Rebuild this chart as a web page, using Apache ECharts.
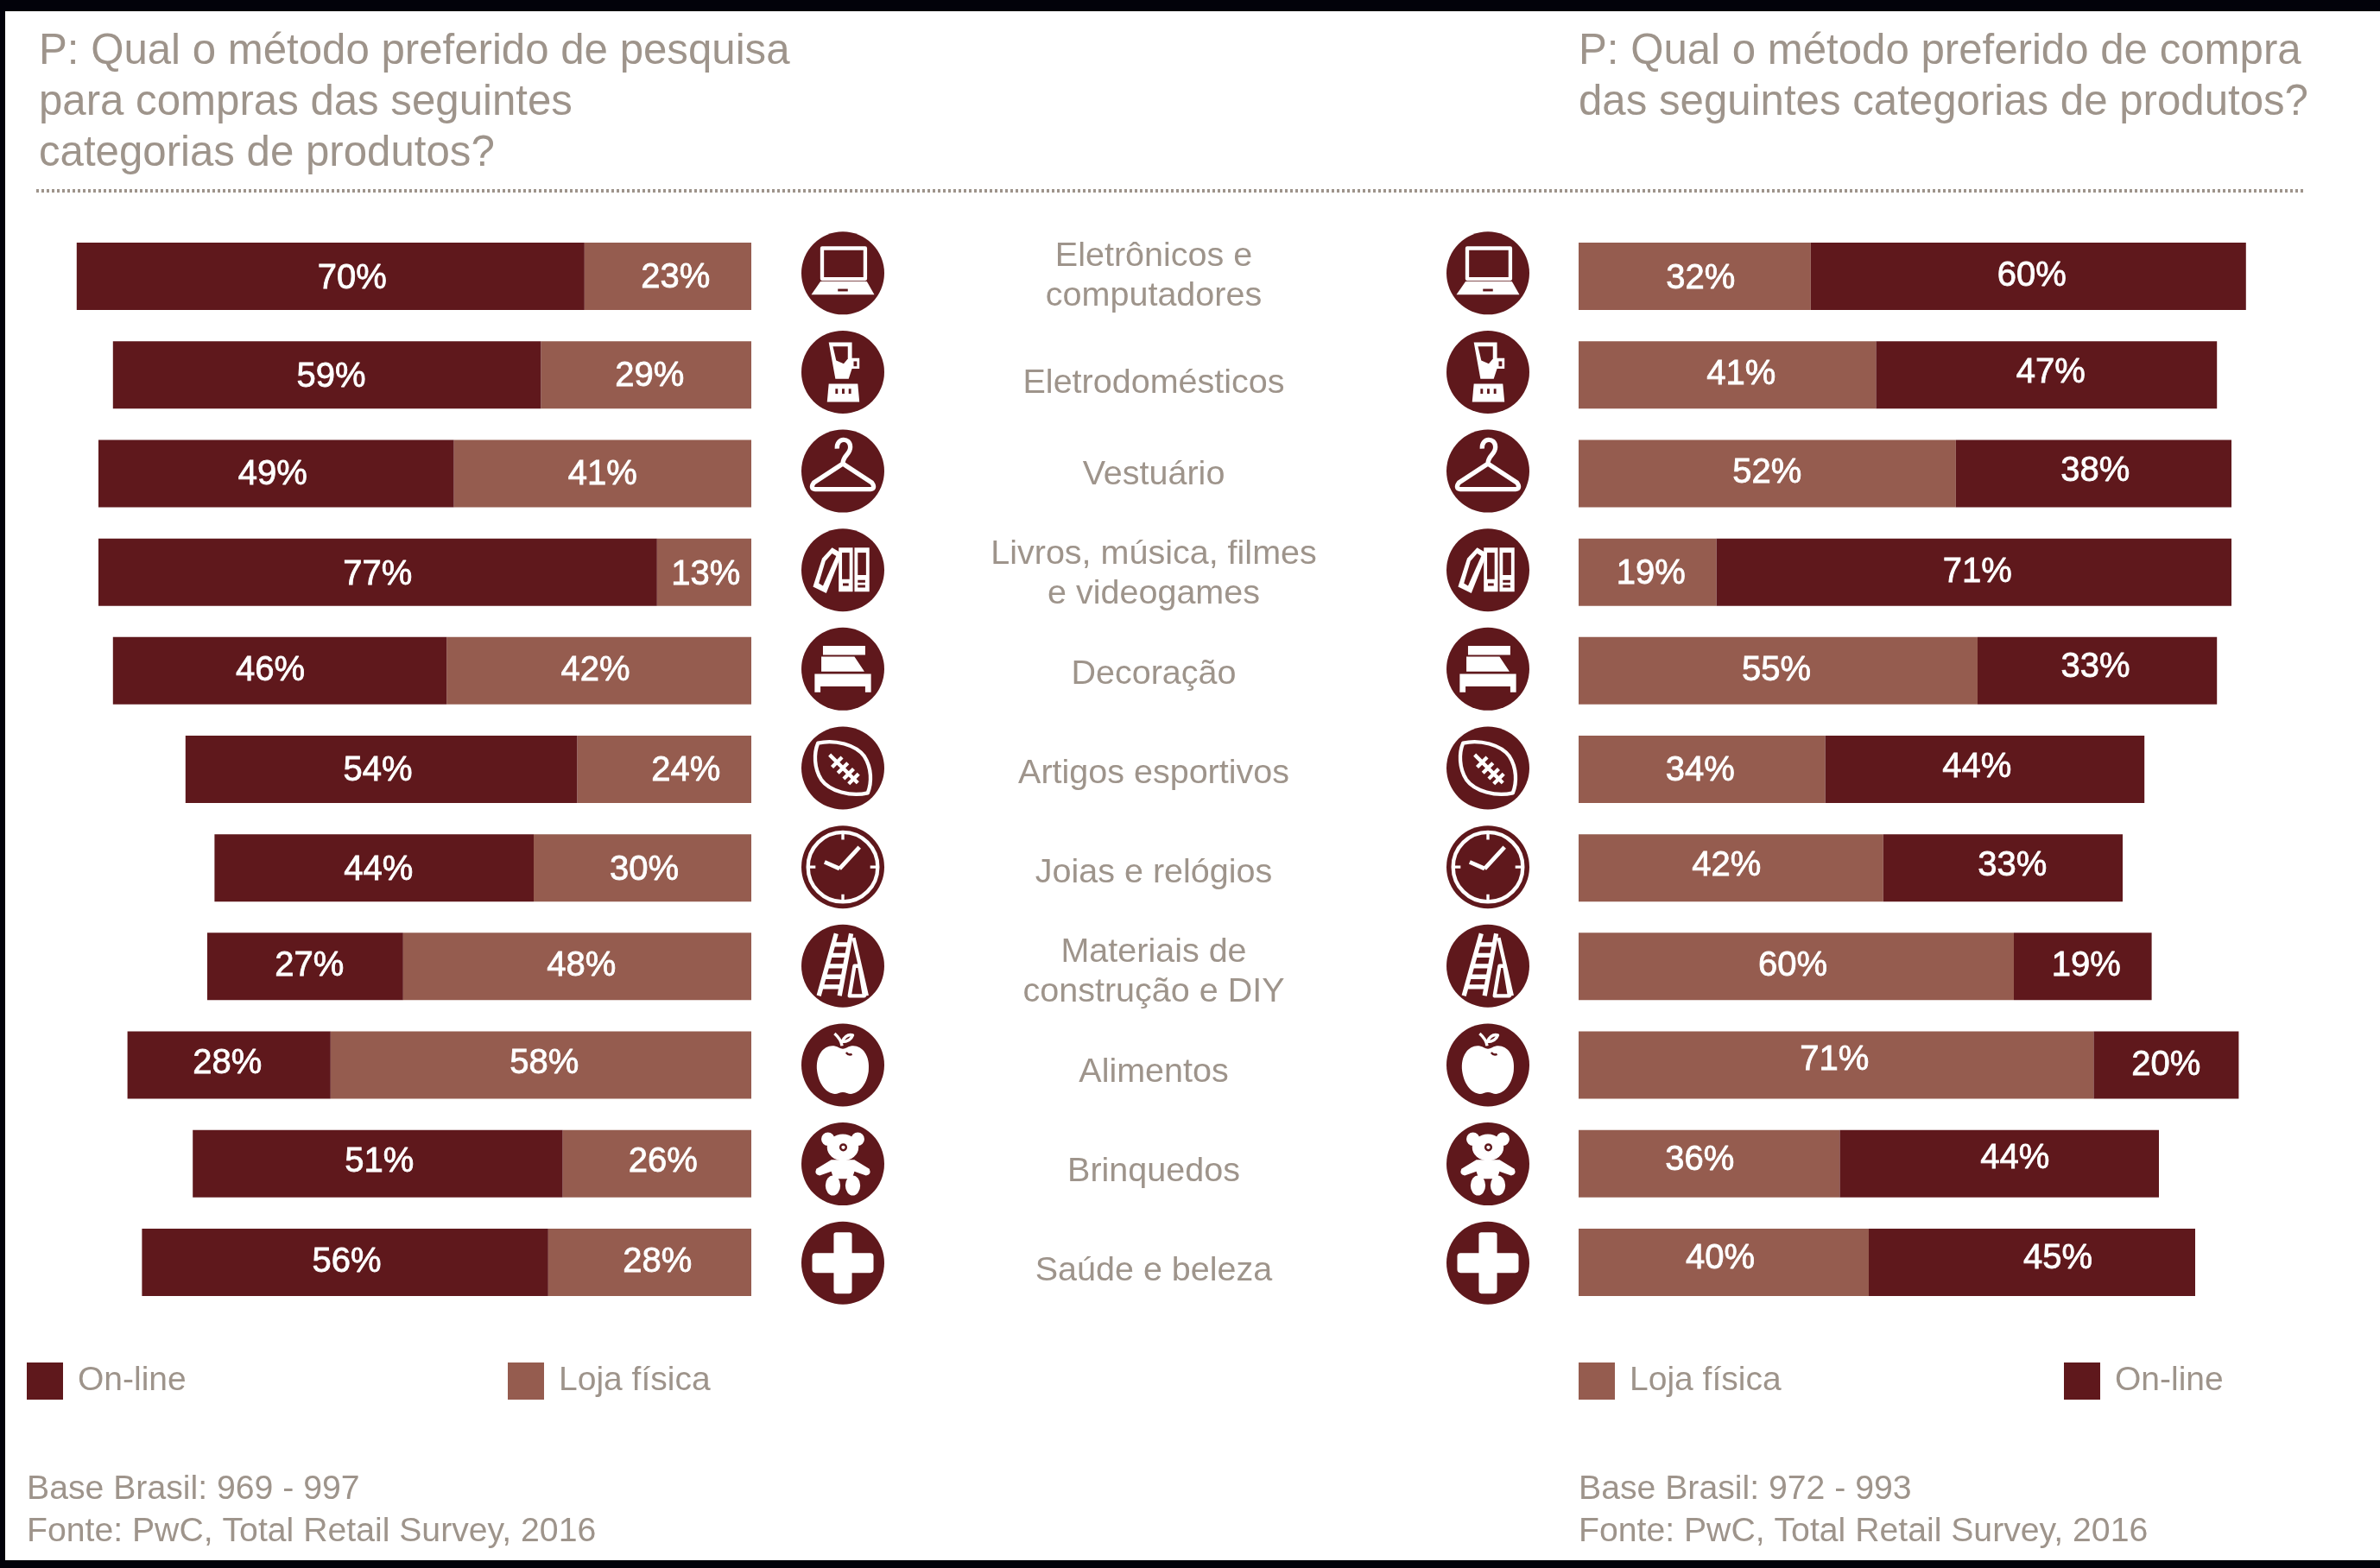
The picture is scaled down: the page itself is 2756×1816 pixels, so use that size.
<!DOCTYPE html>
<html lang="pt-BR">
<head>
<meta charset="utf-8">
<title>Total Retail Survey 2016</title>
<style>
html,body{margin:0;padding:0;background:#fff}
#chart{width:2756px;height:1816px}
</style>
<script src="https://cdn.jsdelivr.net/npm/echarts@6/dist/echarts.min.js"></script>
</head>
<body>
<div id="chart"></div>
<script>
// Survey results: preferred method per product category
const categories = [
  'Eletrônicos e\ncomputadores', 'Eletrodomésticos', 'Vestuário',
  'Livros, música, filmes\ne videogames', 'Decoração', 'Artigos esportivos',
  'Joias e relógios', 'Materiais de\nconstrução e DIY', 'Alimentos',
  'Brinquedos', 'Saúde e beleza'
];
const iconNames = ['laptop','blender','hanger','books','bed','ball','clock','ladder','apple','teddy','cross'];

const researchOnline = [70, 59, 49, 77, 46, 54, 44, 27, 28, 51, 56];
const researchStore  = [23, 29, 41, 13, 42, 24, 30, 48, 58, 26, 28];
const purchaseStore  = [32, 41, 52, 19, 55, 34, 42, 60, 71, 36, 40];
const purchaseOnline = [60, 47, 38, 71, 33, 44, 33, 19, 20, 44, 45];

const ONLINE = 'On-line';
const STORE = 'Loja física';
const DARK = '#5f181c';
const LIGHT = '#955c4f';
const GREY = '#9e948b';
const FONT = '"Liberation Sans", Arial, sans-serif';

// Hand placement of the percentage labels inside their bars, in pixels
const labelShift = {
  researchOnline: {x: [25, 5, -4, 0, -11, -4, 5, 5, -2, 2, 2], y: [3, 3, 2, 3, 0, 2, 3, 0, -2, -2, 0]},
  researchStore:  {x: [9, 4, 0, 2, -4, 25, 2, 5, 4, 7, 9], y: [2, 2, 2, 3, 0, 2, 3, 0, -2, -2, 0]},
  purchaseStore:  {x: [7, 16, 0, 4, -2, -2, -5, -4, -2, -11, -4], y: [3, 0, 0, 2, 0, 2, -2, 0, -6, -4, -4]},
  purchaseOnline: {x: [4, 5, 2, 4, -2, -9, 11, 4, 0, 18, 30], y: [0, -2, -2, 0, -4, -2, -2, 0, 0, -6, -4]}
};

// Pictograms, drawn on a circle of radius 50 around the origin
const W = '#fff';
const iconShapes = {
  laptop: [
    {d:'M-25,-30 L27,-30 L27,7 L-25,7 Z', stroke:W, w:4.5},
    {d:'M-27,10 L29,10 L38,26 L-38,26 Z', fill:W},
    {d:'M-6,19 L6,19 L6,22 L-6,22 Z', fill:DARK}
  ],
  blender: [
    {d:'M-17,-36 L11,-36 L11,-17 L20,-17 L20,-4 L11,-4 L7,8 L-9,8 Z', fill:W},
    {d:'M-12,-31 L6,-31 L6,-16 L1,-10 L-8,-14 Z', fill:DARK},
    {d:'M13,-13 L17,-13 L17,-7 L13,-7 Z', fill:DARK},
    {d:'M-17,14 L18,14 L20,36 L-19,36 Z', fill:W},
    {d:'M-9,20 L-6,20 L-6,26 L-9,26 Z M-1,20 L2,20 L2,26 L-1,26 Z M7,20 L10,20 L10,26 L7,26 Z', fill:DARK}
  ],
  hanger: [
    {d:'M-7,-27 C-8,-41 9,-41 9,-29 C9,-20 0,-19 0,-9 L-35,14 Q-40,21 -33,22 L33,22 Q40,21 35,14 L0,-9', stroke:W, w:5.5}
  ],
  books: [
    {d:'M-25,-14 L-13,-27 L-1,-20 L-20,28 L-36,20 Z', fill:W},
    {d:'M-21,-11 L-13,-20 L-8,-17 L-24,19 L-29,16 Z', fill:DARK},
    {d:'M-5,-27 L12,-27 L12,26 L-5,26 Z', fill:W},
    {d:'M-1,-21 L8,-21 L8,11 L-1,11 Z', fill:DARK},
    {d:'M14,-27 L32,-27 L32,26 L14,26 Z', fill:W},
    {d:'M18,-21 L28,-21 L28,6 L18,6 Z', fill:DARK},
    {d:'M0,16 L7,16 L7,19 L0,19 Z M18,12 L27,12 L27,15 L18,15 Z M18,18 L27,18 L27,21 L18,21 Z', fill:DARK}
  ],
  bed: [
    {d:'M-24,-28 L27,-28 L27,-17 L-24,-17 Z', fill:W},
    {d:'M-26,-15 L14,-15 L26,3 L-26,3 Z', fill:W},
    {d:'M-34,6 L34,6 L34,28 L27,28 L27,21 L-27,21 L-27,28 L-34,28 Z', fill:W}
  ],
  ball: [
    {d:'M-30,-30 C-10,-35 16,-28 26,-14 C35,0 35,18 30,30 C10,35 -16,28 -26,14 C-35,0 -35,-18 -30,-30 Z', stroke:W, w:4.5},
    {d:'M-16,-16 L18,18 M-13,-1 L-1,-13 M-6,6 L6,-6 M1,13 L13,1 M7,19 L19,7', stroke:W, w:4.5}
  ],
  clock: [
    {d:'M-42,0 A42,42 0 1,0 42,0 A42,42 0 1,0 -42,0 Z', stroke:W, w:4.5},
    {d:'M0,-41 L0,-33 M0,41 L0,33 M-41,0 L-33,0 M41,0 L33,0', stroke:W, w:3.5},
    {d:'M-4,2 L20,-24 M-4,2 L-22,-6', stroke:W, w:5}
  ],
  ladder: [
    {d:'M-8,-39 L-29,36 M10,-39 L-4,36 M-12,-26 L7,-26 M-15,-13 L4,-13 M-19,0 L1,0 M-23,13 L-1,13 M-26,25 L-3,25', stroke:W, w:5.5},
    {d:'M13,-34 L29,36 M14,0 L8,36 L26,36 L20,0 Z', stroke:W, w:4.5}
  ],
  apple: [
    {d:'M-5,-21 C-18,-28 -34,-16 -31,8 C-28,28 -15,38 -5,34 Q0,32 5,34 C15,38 28,28 31,8 C34,-16 18,-28 5,-21 Q0,-18 -5,-21 Z', fill:W},
    {d:'M-10,-38 Q-2,-31 -1,-23 M-1,-28 Q4,-38 12,-36 Q9,-28 -1,-28 Z', stroke:W, w:3.5},
    {d:'M4,-15 Q7,-11 11,-13', stroke:DARK, w:2.5}
  ],
  teddy: [
    {d:'M-26,-30 A8,8 0 1,0 -10,-30 A8,8 0 1,0 -26,-30 Z M10,-30 A8,8 0 1,0 26,-30 A8,8 0 1,0 10,-30 Z', fill:W},
    {d:'M-19,-20 A19,16 0 1,0 19,-20 A19,16 0 1,0 -19,-20 Z', fill:W},
    {d:'M-3,-20 A3.5,3.5 0 1,0 4,-20 A3.5,3.5 0 1,0 -3,-20 Z', stroke:DARK, w:2.5},
    {d:'M-14,-5 L14,-5 L32,6 Q35,13 28,14 L14,9 L11,18 L-11,18 L-14,9 L-28,14 Q-35,13 -32,6 Z', fill:W},
    {d:'M-21,26 A9,12 0 1,0 -3,26 A9,12 0 1,0 -21,26 Z M3,26 A9,12 0 1,0 21,26 A9,12 0 1,0 3,26 Z', fill:W}
  ],
  cross: [
    {d:'M-11,-34 Q-11,-37 -8,-37 L8,-37 Q11,-37 11,-34 L11,-12 L33,-12 Q37,-12 37,-8 L37,8 Q37,12 33,12 L11,12 L11,33 Q11,37 8,37 L-8,37 Q-11,37 -11,33 L-11,12 L-33,12 Q-37,12 -37,8 L-37,-8 Q-37,-12 -33,-12 L-11,-12 Z', fill:W}
  ]
};

function renderIcon(params, api) {
  const idx = api.value(1);
  const pos = api.coord([0, idx]);
  const parts = iconShapes[iconNames[idx]].map(p => ({
    type: 'path',
    shape: {pathData: p.d},
    style: {fill: p.fill || 'none', stroke: p.stroke || 'none', lineWidth: p.w || 0, lineJoin: 'round'}
  }));
  return {
    type: 'group', x: pos[0], y: pos[1], scaleX: 0.96, scaleY: 0.96,
    children: [{type: 'circle', shape: {cx: 0, cy: 0, r: 50}, style: {fill: DARK}}].concat(parts)
  };
}

function barSeries(name, values, shift, stack, color, xIdx, yIdx) {
  return {
    type: 'bar', name, stack, xAxisIndex: xIdx, yAxisIndex: yIdx,
    data: values.map((value, i) => ({value, label: {offset: [shift.x[i], shift.y[i]]}})),
    barWidth: 78, itemStyle: {color},
    label: {
      show: true, position: 'inside', formatter: '{c}%', color: '#fff', fontSize: 40, fontFamily: FONT,
      textBorderColor: '#fff', textBorderWidth: 0.8
    }
  };
}
function iconSeries(axisIdx) {
  return {
    type: 'custom', renderItem: renderIcon, xAxisIndex: axisIdx, yAxisIndex: axisIdx,
    data: iconNames.map((n, i) => [0, i]), encode: {x: 0, y: 1}, silent: true, clip: false
  };
}
function hiddenCategory(gridIndex) {
  return {type: 'category', inverse: true, gridIndex, data: categories, show: false};
}
function titleText(text, left, top, size, lineHeight) {
  return {text, left, top, padding: 0, textStyle: {color: GREY, fontSize: size, lineHeight, fontWeight: 'normal', fontFamily: FONT}};
}
function legendItem(name, left) {
  return {
    data: [name], left, top: 1578, padding: 0, itemWidth: 42, itemHeight: 43, icon: 'rect', selectedMode: false,
    textStyle: {color: GREY, fontSize: 39, fontFamily: FONT, padding: [7, 0, 0, 12]}
  };
}

const chart = echarts.init(document.getElementById('chart'), null, {renderer: 'canvas'});
chart.setOption({
  animation: false,
  backgroundColor: '#fff',
  title: [
    titleText('P: Qual o método preferido de pesquisa\npara compras das seguintes\ncategorias de produtos?', 45, 31, 49.2, 59),
    titleText('P: Qual o método preferido de compra\ndas seguintes categorias de produtos?', 1828, 31, 49.2, 59),
    titleText('Base Brasil: 969 - 997\nFonte: PwC, Total Retail Survey, 2016', 31, 1701, 39.2, 49),
    titleText('Base Brasil: 972 - 993\nFonte: PwC, Total Retail Survey, 2016', 1828, 1701, 39.2, 49)
  ],
  legend: [legendItem(ONLINE, 31), legendItem(STORE, 588), legendItem(STORE, 1828), legendItem(ONLINE, 2390)],
  grid: [
    {left: 30, width: 840, top: 263, height: 1256},
    {left: 1828, width: 840, top: 263, height: 1256},
    {left: 952, width: 48, top: 259, height: 1261},
    {left: 1699, width: 48, top: 259, height: 1261},
    {left: 1330, width: 12, top: 262, height: 1268}
  ],
  xAxis: [
    {type: 'value', gridIndex: 0, min: 0, max: 100, inverse: true, show: false},
    {type: 'value', gridIndex: 1, min: 0, max: 100, show: false},
    {type: 'value', gridIndex: 2, min: -1, max: 1, show: false},
    {type: 'value', gridIndex: 3, min: -1, max: 1, show: false},
    {type: 'value', gridIndex: 4, min: 0, max: 1, show: false}
  ],
  yAxis: [
    hiddenCategory(0), hiddenCategory(1), hiddenCategory(2), hiddenCategory(3),
    {
      type: 'category', inverse: true, gridIndex: 4, position: 'left', data: categories,
      axisLine: {show: false}, axisTick: {show: false}, splitLine: {show: false},
      axisLabel: {
        interval: 0, margin: -6, align: 'center', verticalAlign: 'middle', color: GREY,
        fontSize: 39.5, lineHeight: 46, fontFamily: FONT,
        // the single-line appliance label sits a little below its row
        formatter: (value, i) => i === 1 ? '{low|' + value + '}' : value,
        rich: {low: {padding: [18, 0, 0, 0], color: GREY, fontSize: 39.5, fontFamily: FONT}}
      }
    }
  ],
  series: [
    barSeries(STORE, researchStore, labelShift.researchStore, 'research', LIGHT, 0, 0),
    barSeries(ONLINE, researchOnline, labelShift.researchOnline, 'research', DARK, 0, 0),
    barSeries(STORE, purchaseStore, labelShift.purchaseStore, 'purchase', LIGHT, 1, 1),
    barSeries(ONLINE, purchaseOnline, labelShift.purchaseOnline, 'purchase', DARK, 1, 1),
    iconSeries(2),
    iconSeries(3)
  ],
  graphic: [
    // black edges of the page and the dotted rule under the questions
    {type: 'rect', z: 100, shape: {x: 0, y: 0, width: 2756, height: 13}, style: {fill: '#02020a'}},
    {type: 'rect', z: 100, shape: {x: 0, y: 1807, width: 2756, height: 9}, style: {fill: '#02020a'}},
    {type: 'rect', z: 100, shape: {x: 0, y: 0, width: 6, height: 1816}, style: {fill: '#02020a'}},
    {type: 'line', z: 100, shape: {x1: 42, y1: 221, x2: 2669, y2: 221}, style: {stroke: GREY, lineWidth: 4, lineDash: [3, 3]}}
  ]
});
</script>
</body>
</html>
